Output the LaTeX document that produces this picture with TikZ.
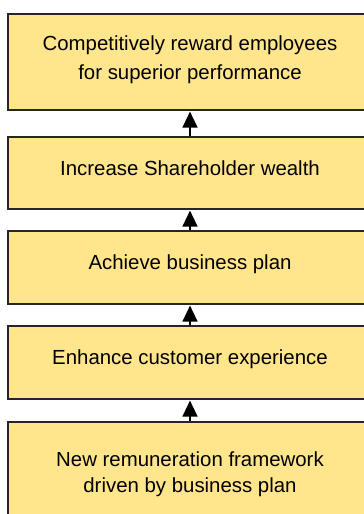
\documentclass[tikz,border=0pt]{standalone}
\usepackage{fontspec}
\setmainfont{Liberation Sans}
\usetikzlibrary{arrows.meta}
\definecolor{boxfill}{HTML}{FFE58C}
\definecolor{boxline}{HTML}{262626}
\tikzset{
  box/.style={draw=boxline, line width=1.6pt, fill=boxfill, rectangle, minimum width=364pt, inner sep=0pt},
  txt/.style={anchor=base, inner sep=0pt, font=\fontsize{20.4}{24}\selectfont, text=black},
  uparrow/.style={draw=black, line width=1.5pt, -{Triangle[length=16pt,width=15pt]}, shorten >=0.8pt}
}
\begin{document}
\begin{tikzpicture}[x=1pt, y=-1pt]
\useasboundingbox (0,0) rectangle (364,514);
\clip (0,0) rectangle (364,514);
\node[box, minimum height=96pt] (b1) at (190,62) {};
\node[box, minimum height=72pt] (b2) at (190,173) {};
\node[box, minimum height=73pt] (b3) at (190,267.5) {};
\node[box, minimum height=73pt] (b4) at (190,362.5) {};
\node[box, minimum height=96pt] (b5) at (190,470) {};
\node[txt] (t1a) at (190,50.5) {Competitively reward employees};
\node[txt] (t1b) at (190,79.5) {for superior performance};
\node[txt] (t2) at (190,175) {Increase Shareholder wealth};
\node[txt] (t3) at (190,269.5) {Achieve business plan};
\node[txt] (t4) at (190,364.5) {Enhance customer experience};
\node[txt] (t5a) at (190,466) {New remuneration framework};
\node[txt] (t5b) at (190,492) {driven by business plan};
\draw[uparrow] (b2.north) -- (b1.south);
\draw[uparrow] (b3.north) -- (b2.south);
\draw[uparrow] (b4.north) -- (b3.south);
\draw[uparrow] (b5.north) -- (b4.south);
\end{tikzpicture}
\end{document}
